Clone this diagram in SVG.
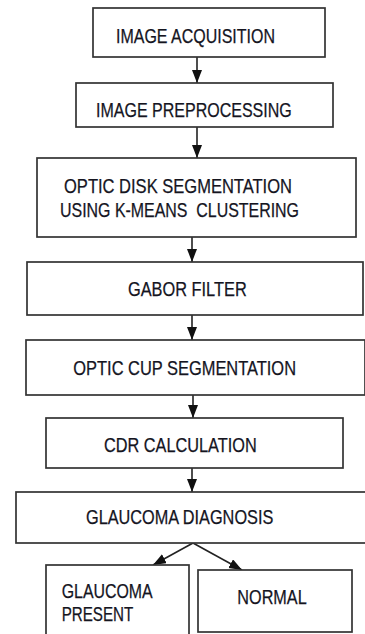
<svg xmlns="http://www.w3.org/2000/svg" width="365" height="634" viewBox="0 0 365 634">
<style>
.box{fill:#fff;stroke:#333;stroke-width:1.7}
.lbl{font-family:"Liberation Sans",Arial,sans-serif;font-size:20px;fill:#15151f;stroke:#15151f;stroke-width:0.25}
.conn{stroke:#222;stroke-width:1.6;fill:none;marker-end:url(#ah)}
</style>
<defs>
<marker id="ah" markerUnits="userSpaceOnUse" markerWidth="14" markerHeight="12" refX="13" refY="5" orient="auto">
<path d="M0,0 L13,5 L0,10 z" fill="#111"/>
</marker>
</defs>
<rect width="365" height="634" fill="#fff"/>
<g id="connectors">
<line class="conn" x1="197" y1="57" x2="197" y2="83"/>
<line class="conn" x1="197" y1="127" x2="197" y2="158"/>
<line class="conn" x1="192" y1="237" x2="192" y2="262"/>
<line class="conn" x1="192" y1="315" x2="192" y2="340"/>
<line class="conn" x1="193" y1="395" x2="193" y2="418"/>
<line class="conn" x1="192" y1="468" x2="192" y2="492"/>
<line class="conn" x1="193" y1="543" x2="153" y2="565"/>
<line class="conn" x1="193" y1="543" x2="242" y2="570"/>
</g>
<g id="n1"><rect class="box" x="93" y="8" width="232" height="49"/>
<text class="lbl" x="116" y="42.7" textLength="159" lengthAdjust="spacingAndGlyphs">IMAGE ACQUISITION</text></g>
<g id="n2"><rect class="box" x="76" y="83" width="257" height="44"/>
<text class="lbl" x="96" y="116.7" textLength="195.7" lengthAdjust="spacingAndGlyphs">IMAGE PREPROCESSING</text></g>
<g id="n3"><rect class="box" x="37" y="158" width="319" height="79"/>
<text class="lbl" x="64" y="193" textLength="228" lengthAdjust="spacingAndGlyphs">OPTIC DISK SEGMENTATION</text>
<text class="lbl" x="60" y="216.7" textLength="239" lengthAdjust="spacingAndGlyphs" xml:space="preserve">USING K-MEANS  CLUSTERING</text></g>
<g id="n4"><rect class="box" x="27" y="262" width="336" height="53"/>
<text class="lbl" x="128" y="296" textLength="118.7" lengthAdjust="spacingAndGlyphs">GABOR FILTER</text></g>
<g id="n5"><rect class="box" x="26" y="340" width="339" height="55"/>
<text class="lbl" x="73.3" y="375" textLength="222.7" lengthAdjust="spacingAndGlyphs">OPTIC CUP SEGMENTATION</text></g>
<g id="n6"><rect class="box" x="46" y="418" width="297" height="50"/>
<text class="lbl" x="104" y="451.7" textLength="152.7" lengthAdjust="spacingAndGlyphs">CDR CALCULATION</text></g>
<g id="n7"><rect class="box" x="16" y="492" width="350" height="51"/>
<text class="lbl" x="86" y="524" textLength="187.3" lengthAdjust="spacingAndGlyphs">GLAUCOMA DIAGNOSIS</text></g>
<g id="n8"><rect class="box" x="46" y="565" width="143" height="75"/>
<text class="lbl" x="61.7" y="598.3" textLength="91" lengthAdjust="spacingAndGlyphs">GLAUCOMA</text>
<text class="lbl" x="61.7" y="620.7" textLength="71.6" lengthAdjust="spacingAndGlyphs">PRESENT</text></g>
<g id="n9"><rect class="box" x="198" y="570" width="154" height="62"/>
<text class="lbl" x="237.3" y="604" textLength="69.4" lengthAdjust="spacingAndGlyphs">NORMAL</text></g>
</svg>
